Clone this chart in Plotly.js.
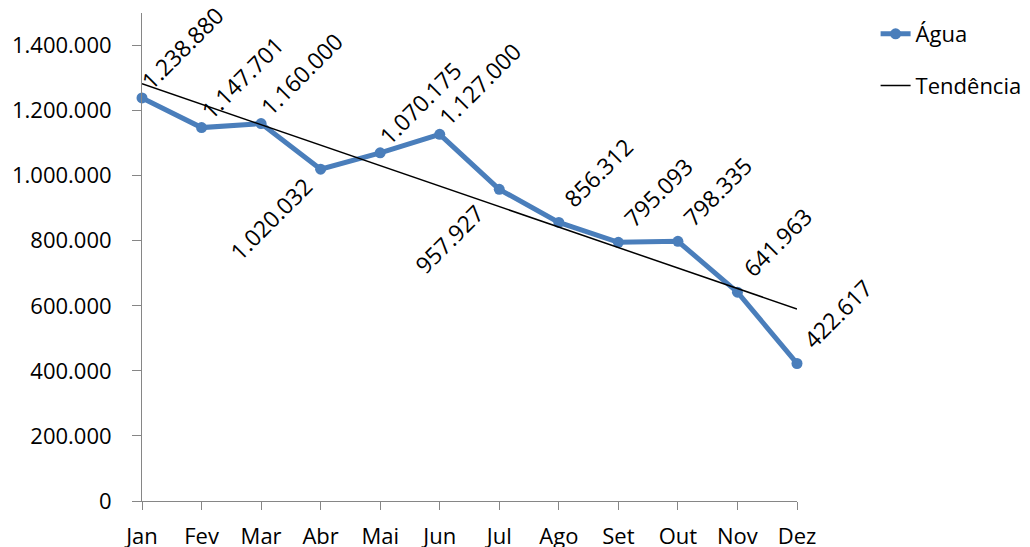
<!DOCTYPE html>
<html>
<head>
<meta charset="utf-8">
<script src="https://cdn.plot.ly/plotly-3.0.1.min.js"></script>
<style>html,body{margin:0;padding:0;background:#fff;}#chart{width:1030px;height:547px;}</style>
</head>
<body>
<div id="chart"></div>
<script>
const months = ["Jan","Fev","Mar","Abr","Mai","Jun","Jul","Ago","Set","Out","Nov","Dez"];
const agua = [1238880, 1147701, 1160000, 1020032, 1070175, 1127000, 957927, 856312, 795093, 798335, 641963, 422617];
const labelSide = ["above","above","above","below","above","above","below","above","above","above","above","above"];
const yTicks = [0, 200000, 400000, 600000, 800000, 1000000, 1200000, 1400000];

function fmt(v){ return String(Math.round(v)).replace(/\B(?=(\d{3})+(?!\d))/g, "."); }

// linear trend (least squares) over month index 1..12
const n = agua.length;
const xs = agua.map((_, i) => i + 1);
const mx = xs.reduce((a, b) => a + b, 0) / n;
const my = agua.reduce((a, b) => a + b, 0) / n;
let sxy = 0, sxx = 0;
for (let i = 0; i < n; i++) { sxy += (xs[i] - mx) * (agua[i] - my); sxx += (xs[i] - mx) ** 2; }
const slope = sxy / sxx, intercept = my - slope * mx;
const trend = xs.map(x => intercept + slope * x);

const FONT = "Open Sans";
const blue = "#4a7ebb";

const traces = [
  {x: months, y: agua, name: "Água", type: "scatter", mode: "lines+markers",
   line: {color: blue, width: 5}, marker: {color: blue, size: 11}, cliponaxis: false,
   legendgroup: "a", hoverinfo: "skip"},
  {x: months, y: trend, name: "Tendência", type: "scatter", mode: "lines",
   line: {color: "#000000", width: 1.5}, cliponaxis: false, legendgroup: "b", hoverinfo: "skip"}
];

const annotations = agua.map((v, i) => {
  const up = labelSide[i] === "above";
  return {x: months[i], y: v, xref: "x", yref: "y", text: fmt(v), showarrow: false,
    textangle: -45, xanchor: "center", yanchor: "middle",
    xshift: up ? 40 : -50, yshift: up ? 50 : -50,
    font: {family: FONT, size: 23, color: "#000"}};
});

const layout = {
  width: 1030, height: 547,
  margin: {l: 142, r: 233, t: 13, b: 46, pad: 0, autoexpand: false},
  paper_bgcolor: "#fff", plot_bgcolor: "#fff",
  font: {family: FONT, size: 22, color: "#000"},
  showlegend: true,
  legend: {x: 1.12, xanchor: "left", y: 1.0, yanchor: "top", traceorder: "grouped",
           tracegroupgap: 20, font: {family: FONT, size: 22, color: "#000"}, bgcolor: "rgba(0,0,0,0)"},
  xaxis: {type: "category", range: [0, 11], showgrid: false, zeroline: false,
          showline: true, linecolor: "#868686", linewidth: 1,
          ticks: "outside", ticklen: 8, tickcolor: "#868686", tickwidth: 1,
          ticklabelstandoff: 8, tickfont: {family: FONT, size: 22, color: "#000"}, fixedrange: true},
  yaxis: {range: [0, 1500000], showgrid: false, zeroline: false,
          showline: true, linecolor: "#868686", linewidth: 1,
          ticks: "outside", ticklen: 9, tickcolor: "#868686", tickwidth: 1,
          tickmode: "array", tickvals: yTicks, ticktext: yTicks.map(fmt),
          ticklabelstandoff: 16, tickfont: {family: FONT, size: 22, color: "#000"}, fixedrange: true},
  annotations: annotations
};

Plotly.newPlot("chart", traces, layout, {displayModeBar: false, staticPlot: true});
</script>
</body>
</html>
